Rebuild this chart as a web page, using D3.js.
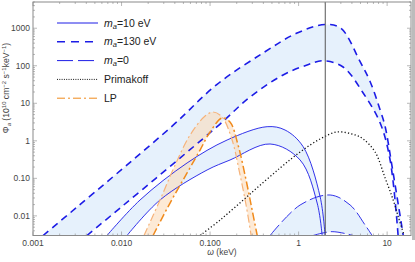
<!DOCTYPE html>
<html>
<head>
<meta charset="utf-8">
<script src="https://cdn.jsdelivr.net/npm/d3@7"></script>
<style>
  body { margin: 0; background: #fff; }
  svg { display: block; font-family: "Liberation Sans", Arial, sans-serif; }
</style>
</head>
<body>
<svg id="chart"></svg>
<script>
// flux curves, [omega keV, flux]
const ma130Upper = [[0.0013,0.003],[0.0353,2.2],[0.12,32],[0.397,219],[0.962,746],[1.99,1257],[3.0,1000],[4.95,128],[6.43,37.6],[8.34,6.6],[9.49,2.4],[11.4,0.2],[15.2,0.003]];
const ma130Lower = [[0.00407,0.003],[0.12,2.38],[0.283,14.7],[0.668,56.8],[1.247,105],[1.89,136],[3.18,92.7],[5.36,18.8],[8.34,2.99],[10.8,0.308],[13.3,0.003]];
const ma10Upper = [[0.00685,0.003],[0.01618,0.0265],[0.055,0.257],[0.1556,1.05],[0.441,2.38],[0.703,1.94],[1.125,0.698],[1.75,0.0324],[1.99,0.003]];
const ma10Lower = [[0.01153,0.003],[0.0272,0.0265],[0.0925,0.167],[0.168,0.308],[0.476,0.823],[1.04,0.308],[1.62,0.022],[1.845,0.003]];
const ma0Upper = [[0.476,0.003],[1.04,0.0195],[2.27,0.036],[3.82,0.0195],[5.64,0.0057],[6.77,0.003]];
const ma0Lower = [[1.459,0.003],[2.39,0.0038],[4.13,0.003]];
const primakoff = [[0.0771,0.003],[0.1297,0.00776],[0.283,0.0383],[0.618,0.189],[1.04,0.504],[1.75,1.12],[2.72,1.72],[4.35,1.43],[5.36,1.12],[7.31,0.504],[9.49,0.102],[11.7,0.0265],[13.7,0.00776],[15.6,0.003]];
const lpLight = [[0.01795,0.003],[0.0272,0.0265],[0.0403,0.227],[0.0595,1.43],[0.0879,4.58],[0.108,5.86],[0.1367,4.31],[0.1774,1.05],[0.218,0.123],[0.255,0.0195],[0.291,0.003]];
const lpDark = [[0.0227,0.003],[0.0353,0.022],[0.055,0.139],[0.0771,0.569],[0.1,1.72],[0.1367,4.06],[0.168,3.17],[0.207,0.774],[0.255,0.0904],[0.2985,0.0144],[0.341,0.003]];

const xTicks = [0.001, 0.01, 0.1, 1, 10];
const xTickLabels = ["0.001", "0.010", "0.100", "1", "10"];
const yTicks = [0.01, 0.1, 1, 10, 100, 1000];
const yTickLabels = ["0.01", "0.10", "1", "10", "100", "1000"];
const markerOmega = 2;

document.addEventListener('DOMContentLoaded', () => {
    const width = 415, height = 262;
    const left = 33, right = 411, top = 2, bottom = 235.5;

    const svg = d3.select('#chart')
        .attr('width', width)
        .attr('height', height);

    const x = d3.scaleLog().domain([0.001, 18.6]).range([left, right]);
    const y = d3.scaleLog().domain([0.003, 5000]).range([bottom, top]);

    svg.append('clipPath').attr('id', 'clip')
        .append('rect')
        .attr('x', left).attr('y', top)
        .attr('width', right - left).attr('height', bottom - top);

    const plot = svg.append('g').attr('clip-path', 'url(#clip)');

    const line = d3.line()
        .x(d => x(d[0]))
        .y(d => y(d[1]))
        .curve(d3.curveCatmullRom.alpha(0.5));

    // band between two curves
    function band(upper, lower) {
        const rev = lower.slice().reverse();
        return line(upper) + line(rev).replace(/^M/, 'L') + 'Z';
    }

    const blueFill = '#e6f1fc';
    const blue = '#1c1ce6';
    const orange = '#f08a1c';

    plot.append('path').attr('d', band(ma130Upper, ma130Lower)).attr('fill', blueFill);
    plot.append('path').attr('d', band(ma10Upper, ma10Lower)).attr('fill', blueFill);
    plot.append('path').attr('d', band(ma0Upper, ma0Lower)).attr('fill', blueFill);
    plot.append('path').attr('d', band(lpLight, lpDark))
        .attr('fill', '#fbd9b4').attr('fill-opacity', 0.55);

    // vertical line at 2 keV
    svg.append('line')
        .attr('x1', x(markerOmega)).attr('x2', x(markerOmega))
        .attr('y1', top).attr('y2', bottom)
        .attr('stroke', '#555').attr('stroke-width', 1);

    const curves = [
        { d: ma130Upper, stroke: blue, w: 1.6, dash: '7,5' },
        { d: ma130Lower, stroke: blue, w: 1.6, dash: '7,5' },
        { d: ma10Upper, stroke: blue, w: 0.9, dash: null },
        { d: ma10Lower, stroke: blue, w: 0.9, dash: null },
        { d: ma0Upper, stroke: blue, w: 0.9, dash: '14,4' },
        { d: ma0Lower, stroke: blue, w: 0.9, dash: '14,4' },
        { d: primakoff, stroke: '#111', w: 1.3, dash: '1.2,2.2' },
        { d: lpLight, stroke: '#f6b37a', w: 1.2, dash: '8,3,2,3' },
        { d: lpDark, stroke: orange, w: 1.5, dash: '8,3,2,3' }
    ];

    plot.selectAll('path.curve')
        .data(curves)
        .enter()
        .append('path')
        .attr('class', 'curve')
        .attr('d', c => line(c.d))
        .attr('fill', 'none')
        .attr('stroke', c => c.stroke)
        .attr('stroke-width', c => c.w)
        .attr('stroke-dasharray', c => c.dash);

    // frame with ticks on all sides
    const frameColor = '#8a8a8a';
    svg.append('rect')
        .attr('x', left).attr('y', top)
        .attr('width', right - left).attr('height', bottom - top)
        .attr('fill', 'none').attr('stroke', frameColor).attr('stroke-width', 1);
    svg.append('rect')
        .attr('x', 412).attr('y', 0)
        .attr('width', 3).attr('height', 240)
        .attr('fill', '#bcbcbc');

    const ticks = svg.append('g').attr('stroke', frameColor).attr('stroke-width', 0.6);
    const xMinor = [];
    for (let e = -3; e <= 1; e++) {
        for (let k = 1; k <= 9; k++) {
            const v = k * Math.pow(10, e);
            if (v >= 0.001 && v <= 18.6) xMinor.push({ v, major: k === 1 });
        }
    }
    xMinor.forEach(t => {
        const len = t.major ? 4 : 2;
        ticks.append('line').attr('x1', x(t.v)).attr('x2', x(t.v)).attr('y1', bottom).attr('y2', bottom - len);
        ticks.append('line').attr('x1', x(t.v)).attr('x2', x(t.v)).attr('y1', top).attr('y2', top + len);
    });
    const yMinor = [];
    for (let e = -3; e <= 3; e++) {
        for (let k = 1; k <= 9; k++) {
            const v = k * Math.pow(10, e);
            if (v >= 0.003 && v <= 5000) yMinor.push({ v, major: k === 1 });
        }
    }
    yMinor.forEach(t => {
        const len = t.major ? 4 : 2;
        ticks.append('line').attr('y1', y(t.v)).attr('y2', y(t.v)).attr('x1', left).attr('x2', left + len);
        ticks.append('line').attr('y1', y(t.v)).attr('y2', y(t.v)).attr('x1', right).attr('x2', right - len);
    });

    // tick labels
    svg.selectAll('text.xt')
        .data(xTicks)
        .enter()
        .append('text')
        .attr('class', 'xt')
        .attr('x', d => x(d))
        .attr('y', bottom + 10)
        .attr('text-anchor', 'middle')
        .attr('font-size', 8.5)
        .attr('fill', '#444')
        .text((d, i) => xTickLabels[i]);

    svg.selectAll('text.yt')
        .data(yTicks)
        .enter()
        .append('text')
        .attr('class', 'yt')
        .attr('x', left - 3)
        .attr('y', d => y(d))
        .attr('dy', '0.35em')
        .attr('text-anchor', 'end')
        .attr('font-size', 8.5)
        .attr('fill', '#444')
        .text((d, i) => yTickLabels[i]);

    // axis labels
    const xl = svg.append('text')
        .attr('x', 222).attr('y', 255)
        .attr('text-anchor', 'middle')
        .attr('font-size', 8.5)
        .attr('fill', '#444');
    xl.append('tspan').attr('font-style', 'italic').text('ω');
    xl.append('tspan').text(' (keV)');

    const yl = svg.append('text')
        .attr('transform', 'translate(9, 88) rotate(-90)')
        .attr('text-anchor', 'middle')
        .attr('font-size', 8.6)
        .attr('fill', '#444');
    yl.append('tspan').text('Φ');
    yl.append('tspan').attr('font-style', 'italic').attr('font-size', 6).attr('dy', 2).text('a');
    yl.append('tspan').attr('dy', -2).text(' (10');
    yl.append('tspan').attr('font-size', 6).attr('dy', -3).text('10');
    yl.append('tspan').attr('dy', 3).text(' cm');
    yl.append('tspan').attr('font-size', 6).attr('dy', -3).text('−2');
    yl.append('tspan').attr('dy', 3).text(' s');
    yl.append('tspan').attr('font-size', 6).attr('dy', -3).text('−1');
    yl.append('tspan').attr('dy', 3).text('keV');
    yl.append('tspan').attr('font-size', 6).attr('dy', -3).text('−1');
    yl.append('tspan').attr('dy', 3).text(')');

    // legend
    const legendItems = [
        { label: ['m', 'a', '=10 eV'], stroke: blue, w: 1, dash: null },
        { label: ['m', 'a', '=130 eV'], stroke: blue, w: 1.6, dash: '8,6' },
        { label: ['m', 'a', '=0'], stroke: blue, w: 1, dash: '16,5' },
        { label: ['Primakoff'], stroke: '#111', w: 1, dash: '1,1.3' },
        { label: ['LP'], stroke: orange, w: 1, dash: '8,3,2,3' }
    ];
    const lg = svg.append('g');
    legendItems.forEach((it, i) => {
        const ly = 23 + i * 18.8;
        lg.append('line')
            .attr('x1', 57).attr('x2', 98)
            .attr('y1', ly).attr('y2', ly)
            .attr('stroke', it.stroke).attr('stroke-width', it.w)
            .attr('stroke-dasharray', it.dash);
        const t = lg.append('text')
            .attr('x', 104).attr('y', ly).attr('dy', '0.35em')
            .attr('font-size', 10.5).attr('fill', '#222');
        if (it.label.length === 3) {
            t.append('tspan').attr('font-style', 'italic').text(it.label[0]);
            t.append('tspan').attr('font-style', 'italic').attr('font-size', 7.5).attr('dy', 2).text(it.label[1]);
            t.append('tspan').attr('dy', -2).text(it.label[2]);
        } else {
            t.text(it.label[0]);
        }
    });
});
</script>
</body>
</html>
